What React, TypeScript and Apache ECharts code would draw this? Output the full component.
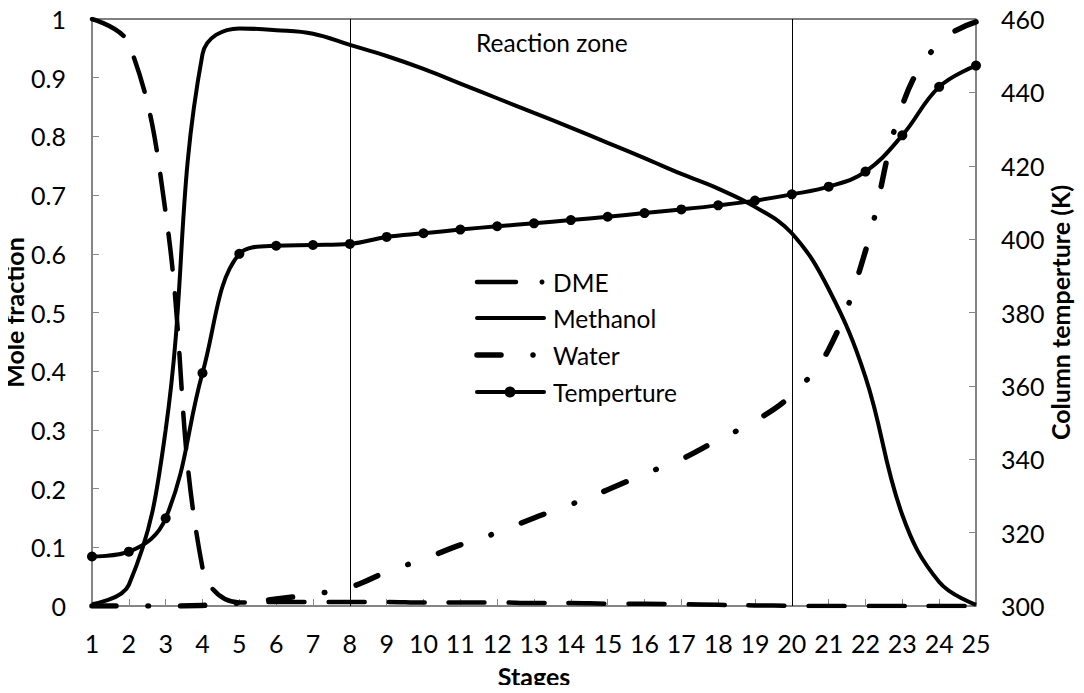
import React, { useEffect, useRef } from "react";
import * as echarts from "echarts";

const stages = [1, 2, 3, 4, 5, 6, 7, 8, 9, 10, 11, 12, 13, 14, 15, 16, 17, 18, 19, 20, 21, 22, 23, 24, 25];
const dme = [1.0, 0.958, 0.67, 0.065, 0.006, 0.007, 0.007, 0.007, 0.007, 0.006, 0.006, 0.006, 0.005, 0.005, 0.004, 0.004, 0.003, 0.002, 0.001, 0.0005, 0, 0, 0, 0, 0];
const methanol = [0.003, 0.036, 0.3, 0.94, 0.984, 0.981, 0.975, 0.956, 0.937, 0.915, 0.89, 0.865, 0.84, 0.815, 0.789, 0.763, 0.736, 0.711, 0.68, 0.635, 0.54, 0.39, 0.155, 0.041, 0.002];
const water = [0, 0, 0, 0.001, 0.005, 0.012, 0.02, 0.032, 0.058, 0.08, 0.104, 0.125, 0.15, 0.173, 0.198, 0.225, 0.25, 0.283, 0.315, 0.36, 0.437, 0.605, 0.853, 0.96, 0.995];
const temperature = [313.5, 314.8, 323.9, 363.5, 396, 398.2, 398.4, 398.7, 400.6, 401.6, 402.6, 403.5, 404.3, 405.2, 406.1, 407.1, 408.1, 409.2, 410.5, 412.2, 414.3, 418.4, 428.3, 441.5, 447.3];
const zoneBounds = [8, 20];
const legendNames = ["DME", "Methanol", "Water", "Temperture"];

const FONT = "Lato";

export default function App() {
  const ref = useRef<HTMLDivElement>(null);
  useEffect(() => {
    if (!ref.current) return;
    const chart = echarts.init(ref.current, undefined, { renderer: "svg" });
    const pair = (ys: number[]) => stages.map((s, i) => [s, ys[i]]);
    const axisGray = "#868686";
    const legendY = [282, 318, 355, 392];
    const lx0 = 477;
    const textX = 553;
    const legendGraphics: any[] = [
      { type: "line", shape: { x1: lx0, y1: legendY[0], x2: 516, y2: legendY[0] }, style: { stroke: "#000", lineWidth: 4.5, lineCap: "round" } },
      { type: "circle", shape: { cx: 542, cy: legendY[0], r: 2.5 }, style: { fill: "#000" } },
      { type: "line", shape: { x1: lx0, y1: legendY[1], x2: 544, y2: legendY[1] }, style: { stroke: "#000", lineWidth: 4, lineCap: "round" } },
      { type: "line", shape: { x1: lx0, y1: legendY[2], x2: 501, y2: legendY[2] }, style: { stroke: "#000", lineWidth: 5.5, lineCap: "round" } },
      { type: "circle", shape: { cx: 533, cy: legendY[2], r: 2.8 }, style: { fill: "#000" } },
      { type: "line", shape: { x1: lx0, y1: legendY[3], x2: 544, y2: legendY[3] }, style: { stroke: "#000", lineWidth: 4, lineCap: "round" } },
      { type: "circle", shape: { cx: 510, cy: legendY[3], r: 5.5 }, style: { fill: "#000" } },
    ];
    legendNames.forEach((n, i) => {
      legendGraphics.push({
        type: "text",
        x: textX,
        y: legendY[i],
        style: { text: n, fontFamily: FONT, fontSize: 24.5, fill: "#000", textVerticalAlign: "middle", verticalAlign: "middle" },
      });
    });
    chart.setOption({
      animation: false,
      backgroundColor: "#fff",
      textStyle: { fontFamily: FONT, color: "#000" },
      grid: {
        left: 92, right: 108, top: 19, bottom: 87,
        show: true, borderColor: "#000", borderWidth: 1, backgroundColor: "transparent",
        outerBoundsMode: "none", containLabel: false,
      },
      xAxis: {
        type: "value",
        min: 1,
        max: 25,
        interval: 1,
        name: "Stages",
        nameLocation: "middle",
        nameGap: 57,
        nameMoveOverlap: false,
        nameTextStyle: { fontFamily: FONT, fontSize: 25, fontWeight: "bold", color: "#000", verticalAlign: "top" },
        axisLine: { show: true, lineStyle: { color: axisGray, width: 1.5 } },
        axisTick: { show: true, inside: true, length: 7, lineStyle: { color: axisGray } },
        axisLabel: { fontFamily: FONT, fontSize: 25, color: "#000", margin: 24 },
        splitLine: { show: false },
      },
      yAxis: [
        {
          type: "value",
          min: 0,
          max: 1,
          interval: 0.1,
          name: "Mole fraction",
          nameLocation: "middle",
          nameRotate: 90,
          nameGap: 66,
          nameMoveOverlap: false,
          nameTextStyle: { fontFamily: FONT, fontSize: 25, fontWeight: "bold", color: "#000" },
          axisLine: { show: true, lineStyle: { color: axisGray, width: 1.5 } },
          axisTick: { show: true, inside: true, length: 7, lineStyle: { color: axisGray } },
          axisLabel: { fontFamily: FONT, fontSize: 25, color: "#000", margin: 26 },
          splitLine: { show: false },
        },
        {
          type: "value",
          min: 300,
          max: 460,
          interval: 20,
          position: "right",
          name: "Column temperture (K)",
          nameLocation: "middle",
          nameRotate: 90,
          nameGap: 71,
          nameMoveOverlap: false,
          nameTextStyle: { fontFamily: FONT, fontSize: 25, fontWeight: "bold", color: "#000" },
          axisLine: { show: true, lineStyle: { color: axisGray, width: 1.5 } },
          axisTick: { show: true, inside: true, length: 7, lineStyle: { color: axisGray } },
          axisLabel: { fontFamily: FONT, fontSize: 25, color: "#000", margin: 25 },
          splitLine: { show: false },
        },
      ],
      graphic: [
        {
          type: "text",
          left: 476,
          top: 30,
          style: { text: "Reaction zone", fontFamily: FONT, fontSize: 24.5, fill: "#000" },
        },
        ...legendGraphics,
      ],
      series: [
        {
          name: "DME",
          type: "line",
          data: pair(dme),
          smooth: 0.4,
          symbol: "none",
          lineStyle: { color: "#000", width: 4.5, type: [36, 24], cap: "round" },
          itemStyle: { color: "#000" },
          z: 3,
        },
        {
          name: "Methanol",
          type: "line",
          data: pair(methanol),
          smooth: 0.4,
          symbol: "none",
          lineStyle: { color: "#000", width: 4 },
          itemStyle: { color: "#000" },
          markLine: {
            silent: true,
            symbol: "none",
            label: { show: false },
            lineStyle: { color: "#000", width: 1, type: "solid" },
            data: zoneBounds.map((v) => ({ xAxis: v })),
          },
          z: 3,
        },
        {
          name: "Water",
          type: "line",
          data: pair(water),
          smooth: 0.4,
          symbol: "none",
          lineStyle: { color: "#000", width: 5.5, type: [24, 32, 0.5, 32], cap: "round" },
          itemStyle: { color: "#000" },
          z: 3,
        },
        {
          name: "Temperture",
          type: "line",
          yAxisIndex: 1,
          data: pair(temperature),
          smooth: 0.4,
          symbol: "circle",
          symbolSize: 10,
          lineStyle: { color: "#000", width: 4 },
          itemStyle: { color: "#000" },
          z: 4,
        },
      ],
    });
    return () => chart.dispose();
  }, []);
  return <div ref={ref} style={{ width: 1084, height: 693, margin: -8 }} />;
}
